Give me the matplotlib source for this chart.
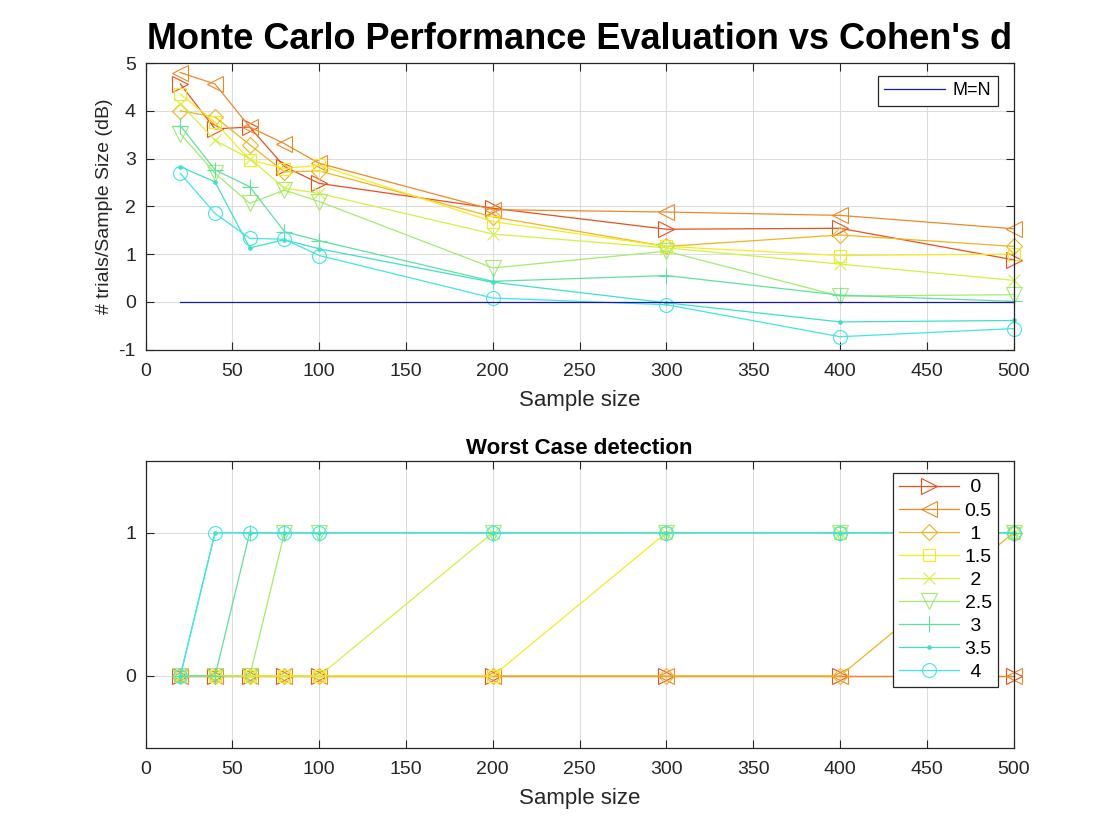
import matplotlib
matplotlib.use("Agg")
import matplotlib.pyplot as plt

plt.rcParams['font.family'] = ['Liberation Sans', 'DejaVu Sans']
plt.rcParams['axes.unicode_minus'] = False

sample_sizes = [20, 40, 60, 80, 100, 200, 300, 400, 500]
cohens_d = ['0', '0.5', '1', '1.5', '2', '2.5', '3', '3.5', '4']

# trials / sample size (dB)
ratio_d0 = [4.56, 3.62, 3.66, 2.83, 2.48, 1.96, 1.52, 1.54, 0.88]
ratio_d05 = [4.80, 4.56, 3.66, 3.31, 2.90, 1.93, 1.88, 1.81, 1.53]
ratio_d1 = [4.00, 3.87, 3.29, 2.72, 2.74, 1.78, 1.16, 1.40, 1.16]
ratio_d15 = [4.35, 3.76, 2.97, 2.79, 2.86, 1.68, 1.16, 0.97, 1.00]
ratio_d2 = [4.15, 3.38, 3.00, 2.38, 2.27, 1.42, 1.13, 0.79, 0.45]
ratio_d25 = [3.52, 2.69, 2.06, 2.34, 2.10, 0.71, 1.06, 0.12, 0.15]
ratio_d3 = [3.69, 2.76, 2.41, 1.47, 1.28, 0.43, 0.55, 0.14, 0.01]
ratio_d35 = [2.83, 2.51, 1.13, 1.30, 1.11, 0.41, -0.02, -0.42, -0.39]
ratio_d4 = [2.69, 1.85, 1.33, 1.31, 0.97, 0.08, -0.06, -0.73, -0.56]
ratios = [ratio_d0, ratio_d05, ratio_d1, ratio_d15, ratio_d2,
          ratio_d25, ratio_d3, ratio_d35, ratio_d4]

reference_mn = [0, 0, 0, 0, 0, 0, 0, 0, 0]

# worst case detection
worst_d0 = [0, 0, 0, 0, 0, 0, 0, 0, 0]
worst_d05 = [0, 0, 0, 0, 0, 0, 0, 0, 0]
worst_d1 = [0, 0, 0, 0, 0, 0, 0, 0, 1]
worst_d15 = [0, 0, 0, 0, 0, 0, 1, 1, 1]
worst_d2 = [0, 0, 0, 0, 0, 1, 1, 1, 1]
worst_d25 = [0, 0, 0, 1, 1, 1, 1, 1, 1]
worst_d3 = [0, 0, 1, 1, 1, 1, 1, 1, 1]
worst_d35 = [0, 1, 1, 1, 1, 1, 1, 1, 1]
worst_d4 = [0, 1, 1, 1, 1, 1, 1, 1, 1]
worsts = [worst_d0, worst_d05, worst_d1, worst_d15, worst_d2,
          worst_d25, worst_d3, worst_d35, worst_d4]

colors = ['#e8501c', '#ec8a24', '#f0b41e', '#f5ec1e', '#d4f040',
          '#a2ec6e', '#5ee0a0', '#3ee0c8', '#3ee6e6']
markers = ['>', '<', 'D', 's', 'x', 'v', '+', '.', 'o']
msizes = [11, 11, 8, 8, 9, 11, 12, 5, 10]

fig = plt.figure(figsize=(11.2, 8.4), dpi=100)
ax1 = fig.add_axes([0.13, 0.5838, 0.775, 0.3412])
ax2 = fig.add_axes([0.13, 0.11, 0.775, 0.3412])


def style(ax):
    ax.set_xlim(0, 500)
    ax.set_xticks(range(0, 501, 50))
    ax.grid(True, color='#dcdcdc', linewidth=0.8)
    ax.set_axisbelow(True)
    ax.tick_params(direction='in', top=True, right=True, labelsize=14,
                   length=6, width=0.8, colors='#262626', labelcolor='#262626')
    ax.tick_params(axis='x', pad=10)
    ax.tick_params(axis='y', pad=7)
    for s in ax.spines.values():
        s.set_color('#262626')
        s.set_linewidth(0.9)
    ax.set_xlabel('Sample size', fontsize=16, color='#262626', labelpad=7)


for i in range(len(cohens_d)):
    ax1.plot(sample_sizes, ratios[i], color=colors[i], marker=markers[i],
             markersize=msizes[i], fillstyle='none' if markers[i] != '.' else 'full',
             markeredgewidth=0.8, linewidth=0.9, clip_on=False)
mn_line, = ax1.plot(sample_sizes, reference_mn, color='#1a1aa6', linewidth=0.9, label='M=N')
style(ax1)
ax1.set_ylim(-1, 5)
ax1.set_yticks(range(-1, 6))
ax1.set_ylabel('# trials/Sample Size (dB)', fontsize=14, color='#262626', labelpad=4)
ax1.set_title("Monte Carlo Performance Evaluation vs Cohen's d", fontsize=26,
              fontweight='bold', pad=10)
leg1 = ax1.legend(handles=[mn_line], loc='upper right', fontsize=13,
                  fancybox=False, edgecolor='#262626', framealpha=1,
                  borderpad=0.35, handlelength=3.4, handletextpad=0.4,
                  borderaxespad=0, bbox_to_anchor=(0.9816, 0.9547))
leg1.get_frame().set_linewidth(0.9)

handles = []
for i in range(len(cohens_d)):
    lbl = cohens_d[i] if len(cohens_d[i]) > 1 else '\u2008' + cohens_d[i]
    h, = ax2.plot(sample_sizes, worsts[i], color=colors[i], marker=markers[i],
                  markersize=msizes[i], fillstyle='none' if markers[i] != '.' else 'full',
                  markeredgewidth=0.8, linewidth=0.9, label=lbl, clip_on=False)
    handles.append(h)
style(ax2)
ax2.set_ylim(-0.5, 1.5)
ax2.set_yticks([0, 1])
ax2.set_title('Worst Case detection', fontsize=16, fontweight='bold', pad=5)
leg2 = ax2.legend(handles=handles, loc='upper right', fontsize=14,
                  fancybox=False, edgecolor='#262626', framealpha=1,
                  borderpad=0.3, labelspacing=0.28, handlelength=3.1,
                  handletextpad=0.3, borderaxespad=0,
                  bbox_to_anchor=(0.9816, 0.958))
leg2.get_frame().set_linewidth(0.9)

fig.savefig('out.png', dpi=100)
